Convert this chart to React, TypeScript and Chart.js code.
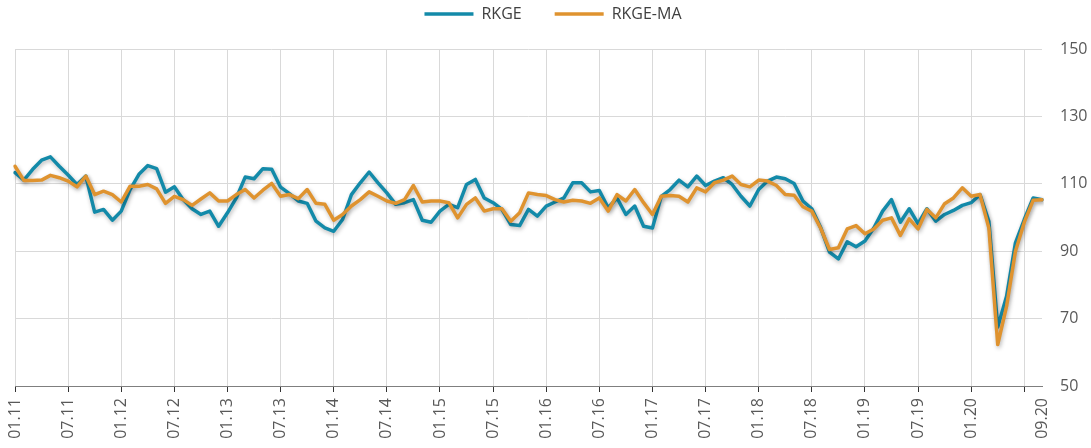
import React, { useEffect, useRef } from 'react';
import { Chart, registerables } from 'chart.js';

Chart.register(...registerables);

// Monthly categories 01.11 … 09.20
const FIRST_YEAR = 11;
const MONTH_COUNT = 117;
const categories: string[] = Array.from(
  { length: MONTH_COUNT },
  (_, i) => `${String((i % 12) + 1).padStart(2, '0')}.${FIRST_YEAR + Math.floor(i / 12)}`
);

// Tick labels shown on the x axis
const xTickLabels = [
  '01.11', '07.11', '01.12', '07.12', '01.13', '07.13', '01.14', '07.14', '01.15', '07.15',
  '01.16', '07.16', '01.17', '07.17', '01.18', '07.18', '01.19', '07.19', '01.20', '09.20',
];
// Positions that carry a gridline / tick mark (every half year up to 07.20)
const xGridLabels = [
  '01.11', '07.11', '01.12', '07.12', '01.13', '07.13', '01.14', '07.14', '01.15', '07.15',
  '01.16', '07.16', '01.17', '07.17', '01.18', '07.18', '01.19', '07.19', '01.20', '07.20',
];

const yTicks = [50, 70, 90, 110, 130, 150];

const rkge = [
  113.3, 111.1, 114.3, 117.0, 118.0, 115.2, 112.6, 109.8, 112.3, 101.6,
  102.4, 99.2, 101.9, 108.3, 112.8, 115.4, 114.5, 107.5, 109.1, 105.3,
  102.6, 100.9, 101.9, 97.4, 101.4, 105.8, 112.0, 111.5, 114.5, 114.3,
  109.0, 107.1, 104.9, 104.2, 98.9, 96.9, 95.9, 99.4, 106.8, 110.3,
  113.5, 110.3, 107.3, 103.9, 104.4, 105.3, 99.2, 98.6, 101.9, 103.9,
  102.9, 109.8, 111.3, 105.8, 104.4, 102.4, 97.9, 97.6, 102.4, 100.4,
  103.4, 104.6, 105.8, 110.3, 110.3, 107.6, 108.0, 102.9, 105.8, 100.9,
  103.4, 97.4, 96.9, 106.3, 108.3, 111.1, 109.1, 112.3, 109.5, 110.8,
  111.8, 109.8, 106.3, 103.4, 108.3, 110.8, 112.0, 111.5, 110.1, 104.9,
  102.6, 97.0, 89.7, 87.7, 92.8, 91.3, 93.0, 96.9, 101.9, 105.3,
  98.6, 102.6, 98.2, 102.6, 98.9, 100.9, 102.1, 103.6, 104.4, 106.8,
  98.9, 67.5, 76.6, 92.5, 99.4, 105.8, 105.3,
];

const rkgeMa = [
  115.2, 111.0, 111.0, 111.1, 112.5, 111.8, 110.8, 109.1, 112.3, 106.8,
  107.8, 106.8, 104.6, 109.3, 109.3, 109.8, 108.5, 104.2, 106.3, 105.3,
  103.6, 105.5, 107.3, 104.9, 104.9, 106.8, 108.3, 105.8, 108.1, 110.1,
  106.3, 106.8, 105.6, 108.3, 104.2, 103.9, 99.2, 100.9, 103.4, 105.3,
  107.6, 106.3, 104.9, 104.2, 105.3, 109.5, 104.6, 104.9, 104.9, 104.4,
  99.9, 103.9, 105.8, 101.9, 102.6, 102.6, 98.9, 101.4, 107.3, 106.8,
  106.5, 105.3, 104.6, 105.1, 104.9, 104.2, 105.8, 101.9, 106.8, 104.9,
  108.3, 104.4, 100.9, 106.3, 106.5, 106.3, 104.6, 108.8, 107.6, 110.3,
  111.1, 112.3, 109.8, 109.1, 111.1, 110.8, 109.5, 106.8, 106.6, 103.2,
  101.9, 96.8, 90.5, 91.0, 96.6, 97.6, 95.2, 96.6, 99.2, 99.9,
  94.7, 99.6, 96.6, 102.4, 99.9, 104.1, 105.8, 108.8, 106.3, 106.8,
  96.9, 62.3, 73.7, 90.0, 98.6, 105.1, 105.3,
];

const TEAL = '#138aa9';
const ORANGE = '#df932f';
const GRID = '#d9d9d9';
const FONT = "'Open Sans', 'Noto Sans', sans-serif";

const legendHeightPlugin = {
  id: 'legendHeight',
  afterInit(chart: any) {
    const lg = chart.legend;
    if (lg && !lg._fixedFit) {
      const orig = lg.fit.bind(lg);
      lg.fit = () => {
        orig();
        lg.height = 76;
      };
      lg._fixedFit = true;
    }
  },
};

const shadowPlugin = {
  id: 'lineShadow',
  beforeDatasetsDraw(chart: any) {
    const c = chart.ctx;
    c.save();
    c.shadowColor = 'rgba(0,0,0,0.28)';
    c.shadowBlur = 4;
    c.shadowOffsetX = 1;
    c.shadowOffsetY = 2;
  },
  afterDatasetsDraw(chart: any) {
    chart.ctx.restore();
  },
};

export default function App() {
  const canvasRef = useRef<HTMLCanvasElement | null>(null);

  useEffect(() => {
    if (!canvasRef.current) return;
    const chart = new Chart(canvasRef.current, {
      type: 'line',
      data: {
        labels: categories,
        datasets: [
          {
            label: 'RKGE',
            data: rkge,
            borderColor: TEAL,
            backgroundColor: TEAL,
            borderWidth: 3.5,
            pointRadius: 0,
            tension: 0,
            borderJoinStyle: 'round',
            borderCapStyle: 'round',
            order: 1,
          },
          {
            label: 'RKGE-MA',
            data: rkgeMa,
            borderColor: ORANGE,
            backgroundColor: ORANGE,
            borderWidth: 3.5,
            pointRadius: 0,
            tension: 0,
            borderJoinStyle: 'round',
            borderCapStyle: 'round',
            order: 0,
          },
        ],
      },
      options: {
        animation: false,
        responsive: true,
        maintainAspectRatio: false,
        layout: { padding: { top: -27, left: 15, right: 0, bottom: 0 } },
        plugins: {
          legend: {
            display: true,
            position: 'top',
            labels: {
              usePointStyle: true,
              pointStyle: 'line',
              pointStyleWidth: 49,
              padding: 33,
              color: '#404040',
              font: { family: FONT, size: 16 },
              sort: (a: any, b: any) => a.datasetIndex - b.datasetIndex,
            },
          },
          tooltip: { enabled: false },
        },
        scales: {
          x: {
            type: 'category',
            offset: false,
            afterFit: (scale: any) => {
              scale.height = 62;
            },
            border: { display: true, color: '#7f7f7f', width: 1 },
            grid: {
              color: (ctx: any) => (xGridLabels.includes(categories[ctx.index]) ? GRID : 'rgba(0,0,0,0)'),
              tickColor: (ctx: any) => (xGridLabels.includes(categories[ctx.index]) ? '#333333' : 'rgba(0,0,0,0)'),
              tickLength: 6,
              lineWidth: 1,
            },
            ticks: {
              autoSkip: false,
              minRotation: 90,
              maxRotation: 90,
              padding: 6,
              color: '#595959',
              font: { family: FONT, size: 16 },
              callback: (_v: any, index: number) =>
                xTickLabels.includes(categories[index]) ? categories[index] : '',
            },
          },
          y: {
            position: 'right',
            min: 50,
            max: 150,
            afterFit: (scale: any) => {
              scale.width = 49;
            },
            afterBuildTicks: (scale: any) => {
              scale.ticks = yTicks.map((v) => ({ value: v }));
            },
            border: { display: false },
            grid: { color: GRID, lineWidth: 1, drawTicks: false },
            ticks: {
              padding: 18,
              color: '#595959',
              font: { family: FONT, size: 16 },
            },
          },
        },
      },
      plugins: [legendHeightPlugin, shadowPlugin],
    } as any);
    return () => chart.destroy();
  }, []);

  return (
    <div style={{ position: 'fixed', left: 0, top: 0, width: 1091, height: 448, background: '#ffffff' }}>
      <canvas ref={canvasRef} />
    </div>
  );
}
